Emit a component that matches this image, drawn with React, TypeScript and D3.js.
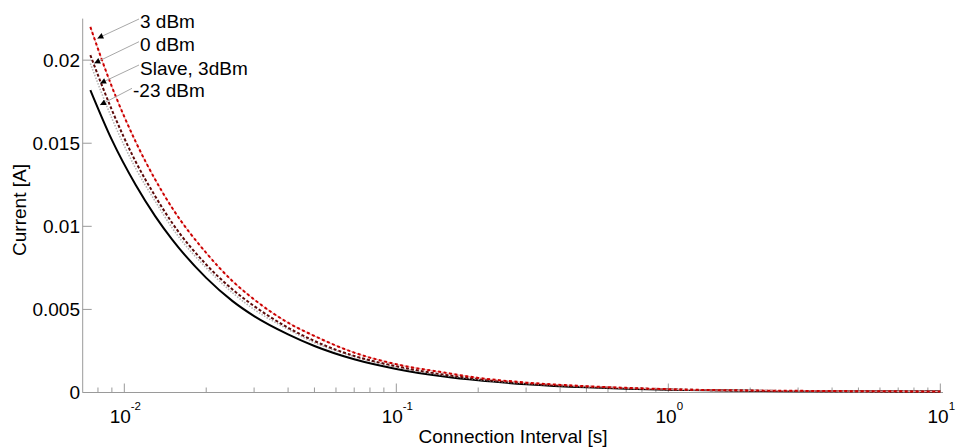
import * as d3 from 'd3'
import { useEffect, useRef } from 'react'

// connection interval [s]
const intervals = [0.0075, 0.009, 0.011, 0.013, 0.015, 0.02, 0.025, 0.03, 0.04, 0.05, 0.07, 0.1, 0.15, 0.2, 0.3, 0.5, 0.7, 1, 2, 3, 5, 10]

// current [A] per setting
const master3dBm = [0.0220, 0.0184, 0.0151, 0.0128, 0.0111, 0.0084, 0.0067, 0.0056, 0.0042, 0.0034, 0.0024, 0.0017, 0.0012, 0.00088, 0.0006, 0.00038, 0.00028, 0.0002, 0.00012, 0.0001, 0.00008, 0.00006]
const master0dBm = [0.0203, 0.0170, 0.0139, 0.0118, 0.0102, 0.0077, 0.0062, 0.0052, 0.0039, 0.0031, 0.0022, 0.00158, 0.00107, 0.00082, 0.00055, 0.00035, 0.00026, 0.00019, 0.00011, 0.00009, 0.00007, 0.00006]
const slave3dBm = [0.0198, 0.0165, 0.0135, 0.0115, 0.0099, 0.0075, 0.0060, 0.0050, 0.0038, 0.0030, 0.00216, 0.00153, 0.00104, 0.00079, 0.00054, 0.00034, 0.00025, 0.00018, 0.00011, 0.00009, 0.00007, 0.00006]
const masterM23dBm = [0.0182, 0.0152, 0.0125, 0.0106, 0.0092, 0.0069, 0.0055, 0.0046, 0.0035, 0.0028, 0.0020, 0.00142, 0.00096, 0.00073, 0.0005, 0.00031, 0.00023, 0.00017, 0.0001, 0.00008, 0.00007, 0.00006]

const yTicks = [0, 0.005, 0.01, 0.015, 0.02]
const yTickLabels = ['0', '0.005', '0.01', '0.015', '0.02']
const xDecades = [-2, -1, 0, 1]

const labels = ['3 dBm', '0 dBm', 'Slave, 3dBm', '-23 dBm']
// arrow tips, in data coordinates
const tipX = [0.00796, 0.00775, 0.00814, 0.00814]
const tipY = [0.02131, 0.01981, 0.0186, 0.0173]

const FONT = '"Liberation Sans", Arial, Helvetica, sans-serif'

export default function App() {
    const ref = useRef<SVGSVGElement>(null)

    useEffect(() => {
        const svg = d3.select(ref.current)
        svg.selectAll('*').remove()

        const x = d3.scaleLog().domain([0.00703, 10.23]).range([82.7, 943])
        const y = d3.scaleLinear().domain([0, 0.0225]).range([392.5, 18.6])
        const axisColor = '#9a9a9a'

        // axes lines
        svg.append('line')
            .attr('x1', x.range()[0]).attr('x2', x.range()[0])
            .attr('y1', y(0.0225)).attr('y2', y(0))
            .attr('stroke', axisColor)
        svg.append('line')
            .attr('x1', x.range()[0]).attr('x2', x.range()[1])
            .attr('y1', y(0)).attr('y2', y(0))
            .attr('stroke', axisColor)

        // y ticks (inward)
        const yg = svg.append('g')
        yTicks.forEach((t, i) => {
            yg.append('line')
                .attr('x1', x.range()[0]).attr('x2', x.range()[0] + 9)
                .attr('y1', y(t)).attr('y2', y(t))
                .attr('stroke', axisColor)
            yg.append('text')
                .attr('x', 80).attr('y', y(t))
                .attr('text-anchor', 'end')
                .attr('dominant-baseline', 'central')
                .attr('font-family', FONT).attr('font-size', 19)
                .text(yTickLabels[i])
        })

        // x ticks, minor then major
        const [lo, hi] = x.domain()
        const minor: number[] = []
        for (let e = -3; e <= 1; e++) {
            for (let m = 2; m <= 9; m++) {
                const v = m * Math.pow(10, e)
                if (v >= lo && v <= hi) minor.push(v)
            }
        }
        svg.append('g').selectAll('line')
            .data(minor)
            .join('line')
            .attr('x1', d => x(d)).attr('x2', d => x(d))
            .attr('y1', y(0)).attr('y2', y(0) - 5)
            .attr('stroke', axisColor)

        const xg = svg.append('g')
        xDecades.forEach(e => {
            const px = x(Math.pow(10, e))
            xg.append('line')
                .attr('x1', px).attr('x2', px)
                .attr('y1', y(0)).attr('y2', y(0) - 9)
                .attr('stroke', axisColor)
            const t = xg.append('text')
                .attr('x', px + 1).attr('y', 423)
                .attr('text-anchor', 'middle')
                .attr('font-family', FONT).attr('font-size', 19)
            t.append('tspan').text('10')
            t.append('tspan')
                .attr('dy', -13).attr('font-size', 11.5)
                .text(String(e))
        })

        // axis titles
        svg.append('text')
            .attr('x', 513).attr('y', 443)
            .attr('text-anchor', 'middle')
            .attr('font-family', FONT).attr('font-size', 19)
            .text('Connection Interval [s]')
        svg.append('text')
            .attr('transform', 'translate(26,210) rotate(-90)')
            .attr('text-anchor', 'middle')
            .attr('font-family', FONT).attr('font-size', 19)
            .text('Current [A]')

        const line = (vals: number[]) => d3.line<number>()
            .x((_, i) => x(intervals[i]))
            .y(d => y(d))
            .curve(d3.curveMonotoneX)(vals)

        // -23 dBm: solid black
        svg.append('path').attr('d', line(masterM23dBm))
            .attr('fill', 'none').attr('stroke', '#000').attr('stroke-width', 2)
        // slave 3dBm: light gray dotted
        svg.append('path').attr('d', line(slave3dBm))
            .attr('fill', 'none').attr('stroke', '#b4b4b4').attr('stroke-width', 1.6)
            .attr('stroke-dasharray', '1.5,1.5')
        // 0 dBm: dark red dashed
        svg.append('path').attr('d', line(master0dBm))
            .attr('fill', 'none').attr('stroke', '#5c0a0a').attr('stroke-width', 2)
            .attr('stroke-dasharray', '3,2')
        // 3 dBm: red dash-dot
        svg.append('path').attr('d', line(master3dBm))
            .attr('fill', 'none').attr('stroke', '#f2a8a8').attr('stroke-width', 1)
        svg.append('path').attr('d', line(master3dBm))
            .attr('fill', 'none').attr('stroke', '#cc0000').attr('stroke-width', 2)
            .attr('stroke-dasharray', '3,2.5')

        // annotations
        svg.append('defs').append('marker')
            .attr('id', 'arr')
            .attr('viewBox', '0 0 10 10')
            .attr('refX', 10).attr('refY', 5)
            .attr('markerWidth', 7).attr('markerHeight', 6)
            .attr('markerUnits', 'userSpaceOnUse')
            .attr('orient', 'auto')
            .append('path').attr('d', 'M0,0L10,5L0,10z').attr('fill', '#000')

        const textX = [140, 140, 140, 133]
        const textY = [28, 51, 75, 97]
        const startY = [19, 41.7, 65, 88.3]
        labels.forEach((lab, i) => {
            svg.append('line')
                .attr('x1', textX[i] - 1).attr('y1', startY[i])
                .attr('x2', x(tipX[i])).attr('y2', y(tipY[i]))
                .attr('stroke', '#a8a8a8').attr('stroke-width', 1)
                .attr('marker-end', 'url(#arr)')
            svg.append('text')
                .attr('x', textX[i]).attr('y', textY[i])
                .attr('font-family', FONT).attr('font-size', 19)
                .text(lab)
        })
    }, [])

    return (
        <svg ref={ref} width={958} height={447}
            style={{ position: 'absolute', left: 0, top: 0, background: '#fff' }} />
    )
}
